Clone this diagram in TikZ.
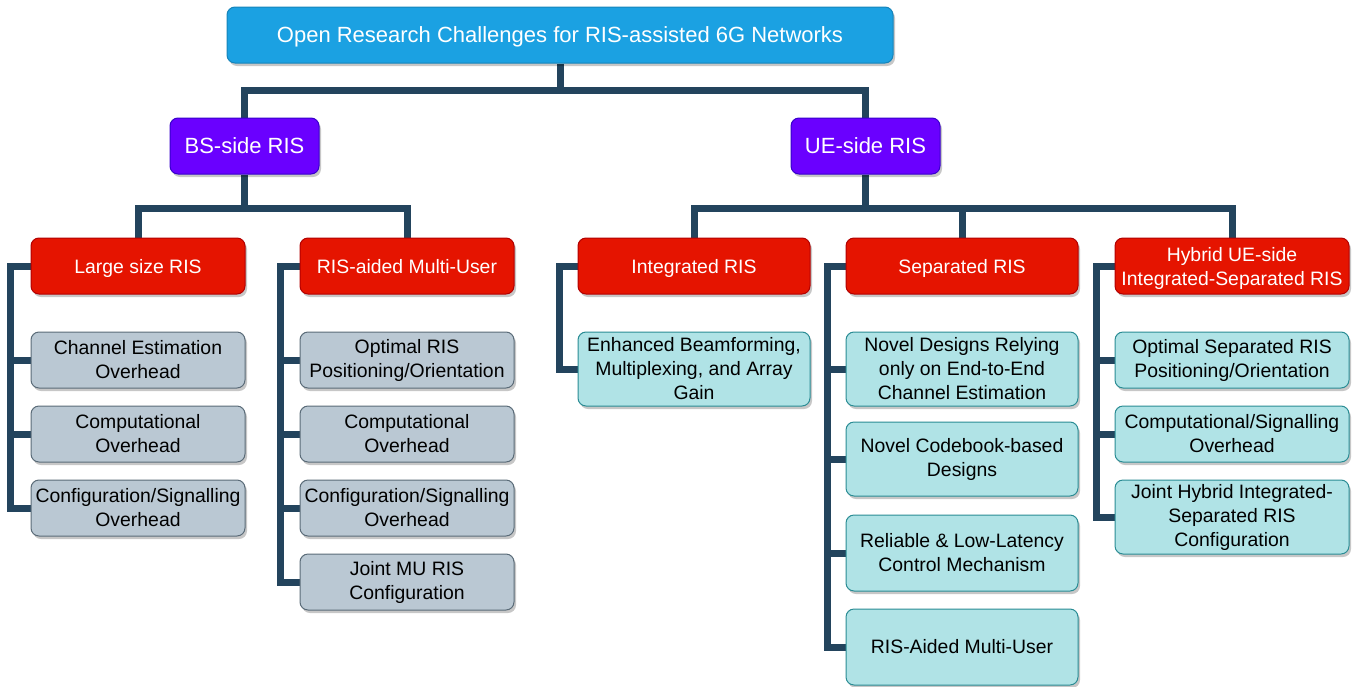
\documentclass[tikz,border=0pt]{standalone}
\usepackage{fontspec}
\setmainfont{Liberation Sans}
\usetikzlibrary{shadows,backgrounds}
\definecolor{tblue}{HTML}{1BA1E2}
\definecolor{tblueD}{HTML}{1684BA}
\definecolor{viol}{HTML}{6A00FF}
\definecolor{violD}{HTML}{3700CC}
\definecolor{rred}{HTML}{E51400}
\definecolor{rredD}{HTML}{B20000}
\definecolor{gfill}{HTML}{BAC8D3}
\definecolor{gdraw}{HTML}{5A6B78}
\definecolor{cfill}{HTML}{B0E3E6}
\definecolor{cdraw}{HTML}{2A8C94}
\definecolor{conncol}{HTML}{23445D}
\tikzset{
  base/.style={rounded corners=8pt, draw, line width=1pt, align=center, inner sep=0pt,
    font=\fontsize{19.4}{24}\selectfont,
    drop shadow={shadow xshift=2pt, shadow yshift=-3pt, opacity=0.22, fill=black}},
  ttl/.style={base, fill=tblue, draw=tblueD, text=white, text depth=0pt, font=\fontsize{22}{26}\selectfont},
  lvla/.style={base, fill=viol, draw=violD, text=white, text depth=0pt, font=\fontsize{22}{26}\selectfont, minimum width=149pt, minimum height=56pt},
  lvlb/.style={base, fill=rred, draw=rredD, text=white, text depth=0pt, minimum height=56pt},
  leafg/.style={base, fill=gfill, draw=gdraw, text=black, minimum width=214pt},
  leafc/.style={base, fill=cfill, draw=cdraw, text=black},
  conn/.style={draw=conncol, line width=7pt, line join=miter}
}
\begin{document}
\begin{tikzpicture}[x=1pt,y=-1pt]
\useasboundingbox (0,0) rectangle (1353,686);
% top
\node[ttl, minimum width=666pt, minimum height=56pt] (t) at (560,35) {Open Research Challenges for RIS-assisted 6G Networks};
\node[lvla] (bs) at (244.5,146) {BS-side RIS};
\node[lvla] (ue) at (865.5,146) {UE-side RIS};
% level 2
\node[lvlb, minimum width=214pt] (ls) at (138,266) {Large size RIS};
\node[lvlb, minimum width=214pt] (ra) at (407,266) {RIS-aided Multi-User};
\node[lvlb, minimum width=232pt] (ir) at (694,266) {Integrated RIS};
\node[lvlb, minimum width=232pt] (sr) at (962,266) {Separated RIS};
\node[lvlb, minimum width=234pt] (hy) at (1232,266) {Hybrid UE-side\\Integrated-Separated RIS};
% leaves BS
\node[leafg, minimum height=56pt] (ls1) at (138,360) {Channel Estimation\\Overhead};
\node[leafg, minimum height=56pt] (ls2) at (138,434) {Computational\\Overhead};
\node[leafg, minimum height=56pt] (ls3) at (138,508) {Configuration/Signalling\\Overhead};
\node[leafg, minimum height=56pt] (ra1) at (407,360) {Optimal RIS\\Positioning/Orientation};
\node[leafg, minimum height=56pt] (ra2) at (407,434) {Computational\\Overhead};
\node[leafg, minimum height=56pt] (ra3) at (407,508) {Configuration/Signalling\\Overhead};
\node[leafg, minimum height=56pt] (ra4) at (407,582) {Joint MU RIS\\Configuration};
% leaves UE
\node[leafc, minimum width=232pt, minimum height=74pt] (ir1) at (694,369) {Enhanced Beamforming,\\Multiplexing, and Array\\Gain};
\node[leafc, minimum width=232pt, minimum height=74pt] (sr1) at (962,369) {Novel Designs Relying\\only on End-to-End\\Channel Estimation};
\node[leafc, minimum width=232pt, minimum height=74pt] (sr2) at (962,459) {Novel Codebook-based\\Designs};
\node[leafc, minimum width=232pt, minimum height=76pt] (sr3) at (962,553) {Reliable \& Low-Latency\\Control Mechanism};
\node[leafc, minimum width=232pt, minimum height=76pt] (sr4) at (962,647) {RIS-Aided Multi-User};
\node[leafc, minimum width=234pt, minimum height=56pt] (hy1) at (1232,360) {Optimal Separated RIS\\Positioning/Orientation};
\node[leafc, minimum width=234pt, minimum height=56pt] (hy2) at (1232,434) {Computational/Signalling\\Overhead};
\node[leafc, minimum width=234pt, minimum height=74pt] (hy3) at (1232,517) {Joint Hybrid Integrated-\\Separated RIS\\Configuration};
% connectors
\begin{scope}[on background layer]
\coordinate (j1) at (560,90);
\coordinate (j2) at (244.5,208);
\coordinate (j3) at (865.5,208);
\draw[conn] (t.south) -- (j1);
\draw[conn] (bs.north) |- (j1) -| (ue.north);
\draw[conn] (bs.south) -- (j2);
\draw[conn] (ls.north) |- (j2) -| (ra.north);
\draw[conn] (ue.south) -- (j3);
\draw[conn] (ir.north) |- (j3) -| (hy.north);
\draw[conn] (sr.north) -- (sr.north |- j3);
% spines
\draw[conn] (ls.west) -- ++(-20,0) |- (ls3.west);
\draw[conn] (ls1.west) -- ++(-20,0);
\draw[conn] (ls2.west) -- ++(-20,0);
\draw[conn] (ra.west) -- ++(-19,0) |- (ra4.west);
\draw[conn] (ra1.west) -- ++(-19,0);
\draw[conn] (ra2.west) -- ++(-19,0);
\draw[conn] (ra3.west) -- ++(-19,0);
\draw[conn] (ir.west) -- ++(-18,0) |- (ir1.west);
\draw[conn] (sr.west) -- ++(-18,0) |- (sr4.west);
\draw[conn] (sr1.west) -- ++(-18,0);
\draw[conn] (sr2.west) -- ++(-18,0);
\draw[conn] (sr3.west) -- ++(-18,0);
\draw[conn] (hy.west) -- ++(-18,0) |- (hy3.west);
\draw[conn] (hy1.west) -- ++(-18,0);
\draw[conn] (hy2.west) -- ++(-18,0);
\end{scope}
\end{tikzpicture}
\end{document}
